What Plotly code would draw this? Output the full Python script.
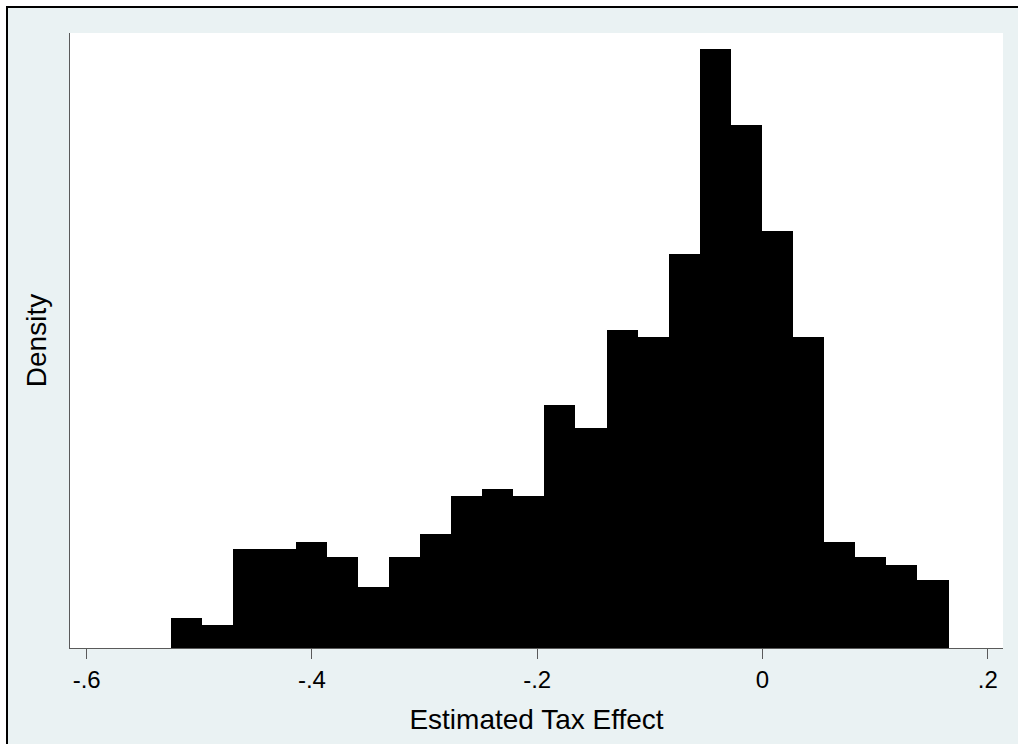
import plotly.graph_objects as go

# ---- data ----
bin_start = -0.5250          # left edge of first bin
bin_width = 0.02761          # width of each bin
counts = [4, 3, 13, 13, 14, 12, 8, 12, 15, 20, 21, 20, 32, 29, 42,
          41, 52, 79, 69, 55, 41, 14, 12, 11, 9]
x_tick_vals = [-0.6, -0.4, -0.2, 0.0, 0.2]
x_tick_text = ["-.6", "-.4", "-.2", "0", ".2"]

n_total = sum(counts)
centers = [bin_start + (i + 0.5) * bin_width for i in range(len(counts))]
density = [c / (n_total * bin_width) for c in counts]

FONT = "Liberation Sans, Arial, sans-serif"
BG = "#EAF2F3"
AX = "#5a5a5a"

fig = go.Figure(
    go.Bar(
        x=centers,
        y=density,
        width=bin_width,
        marker=dict(color="black", line=dict(width=0)),
        hoverinfo="x+y",
    )
)

# pixel -> paper fraction helpers (plot area: x 70..1003, y 33..648)
L, R, T, B = 70, 1003, 33, 648
def fx(px):
    return (px - L) / (R - L)
def fy(py):
    return (B - py) / (B - T)

shapes = [
    # white outer margins
    dict(type="rect", xref="paper", yref="paper", x0=fx(-5), x1=fx(1025),
         y0=fy(6), y1=fy(-5), fillcolor="white", line=dict(width=0), layer="above"),
    dict(type="rect", xref="paper", yref="paper", x0=fx(-5), x1=fx(6),
         y0=fy(750), y1=fy(-5), fillcolor="white", line=dict(width=0), layer="above"),
    # black frame (top and left)
    dict(type="line", xref="paper", yref="paper", x0=fx(6), x1=fx(1025),
         y0=fy(7), y1=fy(7), line=dict(color="black", width=2), layer="above"),
    dict(type="line", xref="paper", yref="paper", x0=fx(7), x1=fx(7),
         y0=fy(6), y1=fy(750), line=dict(color="black", width=2), layer="above"),
]

fig.update_layout(
    width=1018,
    height=744,
    margin=dict(l=L, r=1018 - R, t=T, b=744 - B, autoexpand=False),
    paper_bgcolor=BG,
    plot_bgcolor="white",
    bargap=0,
    showlegend=False,
    font=dict(family=FONT, color="black"),
    shapes=shapes,
    xaxis=dict(
        range=[-0.61483, 0.21358],
        tickmode="array",
        tickvals=x_tick_vals,
        ticktext=x_tick_text,
        ticks="outside",
        ticklen=10,
        tickwidth=1,
        tickcolor=AX,
        tickfont=dict(size=24, family=FONT, color="black"),
        showline=True,
        linecolor=AX,
        linewidth=1,
        showgrid=False,
        zeroline=False,
        automargin=False,
        title=dict(text="Estimated Tax Effect", font=dict(size=28, family=FONT, color="black"),
                   standoff=17),
    ),
    yaxis=dict(
        range=[0, 4.5853],
        showticklabels=False,
        ticks="",
        showline=True,
        linecolor=AX,
        linewidth=1,
        showgrid=False,
        zeroline=False,
        automargin=False,
        title=dict(text="Density", font=dict(size=28, family=FONT, color="black"),
                   standoff=14),
    ),
)

fig.write_html(
    "out.html",
    config={"displayModeBar": False},
    post_script="document.body.style.margin='0';document.body.style.overflow='hidden';",
)
